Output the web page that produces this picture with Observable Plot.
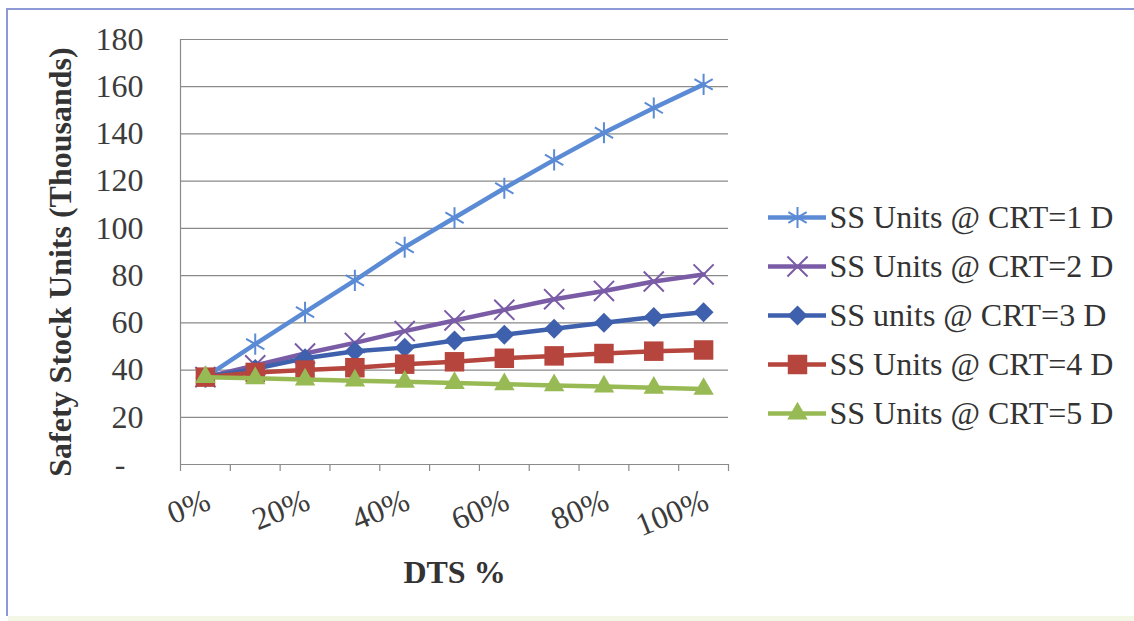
<!DOCTYPE html>
<html>
<head>
<meta charset="utf-8">
<script src="https://cdn.jsdelivr.net/npm/d3@7"></script>
<script src="https://cdn.jsdelivr.net/npm/@observablehq/plot@0.6"></script>
<style>
  html, body { margin: 0; padding: 0; background: #fff; }
  #wrap { position: relative; width: 1134px; height: 621px; overflow: hidden; }
  #frame { position: absolute; left: 6px; top: 8px; width: 1140px; height: 606px;
           border-left: 2px solid #8d99d6; border-top: 2px solid #8d99d6; }
  #foot { position: absolute; left: 8px; top: 616px; width: 1126px; height: 5px; background: #f3f8e6; }
  #chart, #legend { position: absolute; left: 0; top: 0; }
</style>
</head>
<body>
<div id="wrap">
  <div id="frame"></div>
  <div id="foot"></div>
  <div id="chart"></div>
  <div id="legend"></div>
</div>
<script>
// DTS % categories along the x axis
const categories = ["0%", "10%", "20%", "30%", "40%", "50%", "60%", "70%", "80%", "90%", "100%"];

// Safety stock units (thousands) for each customer response time
const crt1 = [37, 51, 64.5, 78, 92, 104.5, 117, 129, 140.5, 151, 161];
const crt2 = [37, 42, 47, 51.5, 56.5, 61, 65.5, 70, 73.5, 77.5, 80.5];
const crt3 = [37, 40.5, 45, 48, 49.5, 52.5, 55, 57.5, 60, 62.5, 64.5];
const crt4 = [37, 39, 40, 41, 42.5, 43.5, 45, 46, 47, 48, 48.5];
const crt5 = [37, 36.5, 36, 35.5, 35, 34.5, 34, 33.5, 33, 32.5, 32];

const seriesNames = [
  "SS Units @ CRT=1 D",
  "SS Units @ CRT=2 D",
  "SS units @ CRT=3 D",
  "SS Units @ CRT=4 D",
  "SS Units @ CRT=5 D"
];
const seriesValues = [crt1, crt2, crt3, crt4, crt5];
const seriesColors = ["#5b8bd5", "#7a5ca6", "#3e60ad", "#b5453d", "#98ba55"];
const seriesSymbols = ["asterisk", "times", "diamond2", "square", "triangle"];
const seriesRadius = [10, 9.2, 9, 11, 7.6];
const strokeSymbols = new Set(["asterisk", "times"]);

const yTicks = [0, 20, 40, 60, 80, 100, 120, 140, 160, 180];
const labelledCategories = d3.range(0, categories.length, 2); // 0%, 20%, ... 100%

// Long-format rows: category i sits in the middle of slot [i, i+1]
const rows = seriesValues.flatMap((vals, s) =>
  vals.map((v, i) => ({series: seriesNames[s], cat: categories[i], x: i + 0.5, y: v}))
);

const grid = "#8a8a8a";
const font = "'Liberation Serif', 'Times New Roman', serif";

const seriesMarks = seriesNames.flatMap((name, s) => {
  const data = rows.filter(d => d.series === name);
  const sym = seriesSymbols[s];
  const filled = !strokeSymbols.has(sym);
  return [
    Plot.line(data, {x: "x", y: "y", stroke: seriesColors[s], strokeWidth: 4.5, strokeLinejoin: "round"}),
    Plot.dot(data, {
      x: "x", y: "y", symbol: () => sym, r: seriesRadius[s],
      fill: filled ? seriesColors[s] : "none",
      stroke: filled ? "none" : seriesColors[s],
      strokeWidth: filled ? 0 : 2
    })
  ];
});

const chart = Plot.plot({
  width: 1134,
  height: 621,
  marginLeft: 180,
  marginRight: 406,
  marginTop: 39,
  marginBottom: 157,
  style: {fontFamily: font, fontSize: "32px", color: "#3c3c3c", background: "transparent", overflow: "visible"},
  x: {domain: [0, categories.length], axis: null},
  y: {domain: [0, 180], axis: null},
  symbol: {type: "identity"},
  marks: [
    Plot.ruleY(yTicks.filter(d => d > 0), {stroke: grid, strokeWidth: 1.2}),
    Plot.ruleY([0], {stroke: grid, strokeWidth: 1.2}),
    Plot.ruleX([0], {stroke: grid, strokeWidth: 1.2}),
    Plot.axisX(d3.range(categories.length + 1), {tickSize: 7, tickFormat: () => "", label: null, stroke: grid, strokeWidth: 1.2}),
    Plot.axisY(yTicks.filter(d => d > 0), {tickSize: 0, tickPadding: 37, label: null, fill: "#3c3c3c"}),
    Plot.text(yTicks.filter(d => d === 0), {y: d => d, text: () => "-", frameAnchor: "left", textAnchor: "end", dx: -55, fill: "#3c3c3c"}),
    Plot.text(labelledCategories, {
      x: i => i + 0.5, text: i => categories[i], frameAnchor: "bottom",
      rotate: -22, textAnchor: "end", dx: 7, dy: 44, fill: "#3c3c3c"
    }),
    Plot.text(["Safety Stock Units (Thousands)"], {
      frameAnchor: "left", textAnchor: "middle", rotate: -90, dx: -120, dy: 10, fontWeight: "bold", fill: "#333"
    }),
    Plot.text(["DTS %"], {frameAnchor: "bottom", textAnchor: "middle", dy: 118, fontWeight: "bold", fill: "#333"}),
    ...seriesMarks
  ]
});
document.getElementById("chart").append(chart);

// Legend: a swatch line with its marker, then the series name
const legendRows = seriesNames.map((name, s) => ({name, s}));
const legend = Plot.plot({
  width: 1134,
  height: 621,
  marginLeft: 768,
  marginRight: 308,
  marginTop: 215,
  marginBottom: 207,
  style: {fontFamily: font, fontSize: "32px", background: "transparent", overflow: "visible"},
  x: {domain: [0, 1], axis: null},
  y: {type: "point", domain: seriesNames, padding: 0, axis: null},
  symbol: {type: "identity"},
  marks: [
    Plot.ruleY(legendRows, {y: "name", x1: () => 0, x2: () => 1, stroke: d => seriesColors[d.s], strokeWidth: 4.5}),
    ...legendRows.map(d => Plot.dot([d], {
      x: () => 0.5, y: "name", symbol: () => seriesSymbols[d.s], r: seriesRadius[d.s],
      fill: strokeSymbols.has(seriesSymbols[d.s]) ? "none" : seriesColors[d.s],
      stroke: strokeSymbols.has(seriesSymbols[d.s]) ? seriesColors[d.s] : "none",
      strokeWidth: strokeSymbols.has(seriesSymbols[d.s]) ? 2 : 0
    })),
    Plot.text(legendRows, {x: () => 1, y: "name", text: "name", textAnchor: "start", dx: 3, fill: "#333"})
  ]
});
document.getElementById("legend").append(legend);
</script>
</body>
</html>
